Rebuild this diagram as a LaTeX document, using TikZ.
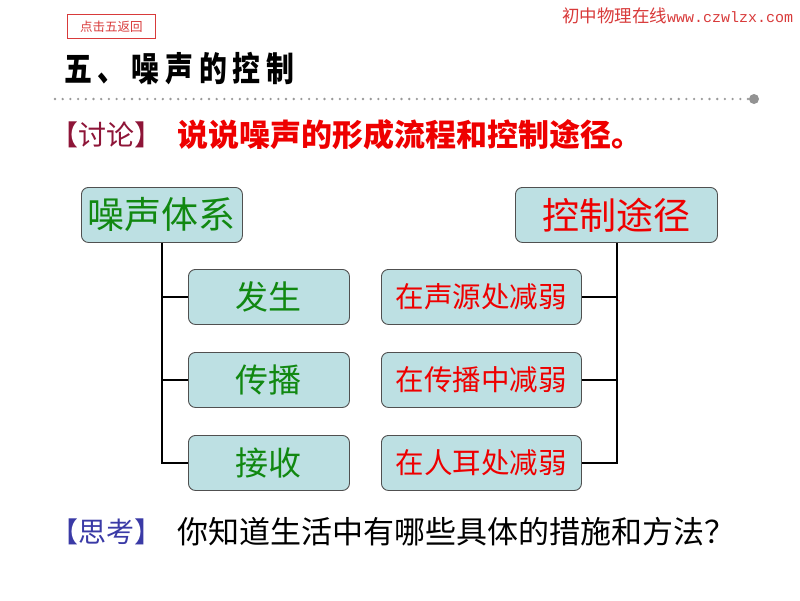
\documentclass[tikz,border=0pt]{standalone}
\usepackage{fontspec}
\newfontfamily\cjk{Noto Sans CJK SC}
\newfontfamily\cjkt[LetterSpace=21]{Noto Sans CJK SC}
\setmonofont{Liberation Mono}
\definecolor{boxfill}{HTML}{BDE0E3}
\definecolor{boxline}{HTML}{505050}
\definecolor{grn}{HTML}{118811}
\definecolor{rd}{HTML}{EE0000}
\definecolor{drd}{HTML}{8E1538}
\definecolor{blu}{HTML}{3A3AA6}
\definecolor{wm}{HTML}{D83A3A}
\tikzset{
  nbox/.style={draw=boxline, line width=0.9pt, fill=boxfill, rounded corners=7pt, inner sep=0pt, anchor=north west, minimum height=55pt},
  conn/.style={line width=2pt, black},
  txt/.style={inner sep=0pt, anchor=west, font=\cjk}
}
\begin{document}
\begin{tikzpicture}[x=1pt,y=-1pt]
\useasboundingbox (0,0) rectangle (800,600);
% header
\node[draw=wm, line width=0.8pt, minimum width=88pt, minimum height=24pt, inner sep=0pt, anchor=north west, text=wm, font=\cjk\fontsize{12.5}{12.5}\selectfont] (ret) at (67,14) {点击五返回};
\node[txt, text=wm, font=\cjk\fontsize{17.5}{17.5}\selectfont] (wm) at (562,16) {初中物理在线{\ttfamily\fontsize{15}{15}\selectfont www.czwlzx.com}};
\node[txt, text=black, xscale=0.82, font=\cjkt\bfseries\fontsize{34}{34}\selectfont] (title) at (64,69) {五、噪声的控制};
\coordinate (dl) at (55,99);
\coordinate (dr) at (748,99);
\draw[line width=2.6pt, line cap=round, dash pattern=on 0pt off 7.7pt, color=gray!80] (dl) -- (dr);
\node[circle, fill=gray!85, minimum size=10pt, inner sep=0pt] (dot) at (754,99) {};
% discussion
\node[txt, text=drd, font=\cjk\fontsize{28}{28}\selectfont] (tl) at (50,135) {【讨论】};
\node[txt, text=rd, font=\cjk\bfseries\fontsize{31}{31}\selectfont] (tq) at (177,135) {说说噪声的形成流程和控制途径。};
% boxes
\node[nbox, minimum width=161pt, text=grn, font=\cjk\fontsize{37}{37}\selectfont] (sys) at (81,187) {噪声体系};
\node[nbox, minimum width=202pt, text=rd, font=\cjk\fontsize{37}{37}\selectfont] (ctl) at (515,187) {控制途径};
\node[nbox, minimum width=161pt, text=grn, font=\cjk\fontsize{33}{33}\selectfont] (a1) at (188,269) {发生};
\node[nbox, minimum width=161pt, text=grn, font=\cjk\fontsize{33}{33}\selectfont] (a2) at (188,352) {传播};
\node[nbox, minimum width=161pt, text=grn, font=\cjk\fontsize{33}{33}\selectfont] (a3) at (188,435) {接收};
\node[nbox, minimum width=200pt, text=rd, font=\cjk\fontsize{28.5}{29}\selectfont] (b1) at (381,269) {在声源处减弱};
\node[nbox, minimum width=200pt, text=rd, font=\cjk\fontsize{28.5}{29}\selectfont] (b2) at (381,352) {在传播中减弱};
\node[nbox, minimum width=200pt, text=rd, font=\cjk\fontsize{28.5}{29}\selectfont] (b3) at (381,435) {在人耳处减弱};
% connectors
\draw[conn] (sys.south) -- (sys.south |- a3.west) -- (a3.west);
\draw[conn] (sys.south |- a1.west) -- (a1.west);
\draw[conn] (sys.south |- a2.west) -- (a2.west);
\draw[conn] (ctl.south -| 617,0) -- (617,0 |- b3.east) -- (b3.east);
\draw[conn] (617,0 |- b1.east) -- (b1.east);
\draw[conn] (617,0 |- b2.east) -- (b2.east);
% think
\node[txt, text=blu, font=\cjk\fontsize{28}{28}\selectfont] (kl) at (50,532) {【思考】};
\node[txt, text=black, font=\cjk\fontsize{31}{31}\selectfont] (kq) at (177,532) {你知道生活中有哪些具体的措施和方法？};
\end{tikzpicture}
\end{document}
